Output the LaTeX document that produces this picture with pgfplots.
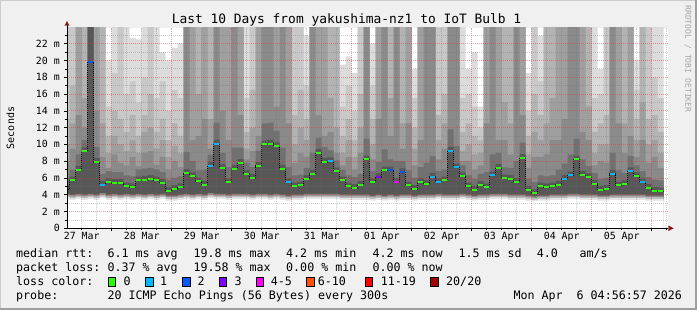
\documentclass[border=0pt]{standalone}
\usepackage{pgfplots}
\pgfplotsset{compat=1.18}
\usepackage{pgfplotstable}
\usepackage{fontspec}
\setmainfont{DejaVu Sans Mono}
\definecolor{bgc}{HTML}{F0F0F0}
\definecolor{cA}{HTML}{DCDCDC}
\definecolor{cB}{HTML}{C8C8C8}
\definecolor{cC}{HTML}{B3B3B3}
\definecolor{cD}{HTML}{9F9F9F}
\definecolor{cE}{HTML}{8A8A8A}
\definecolor{cF}{HTML}{717171}
\definecolor{cG}{HTML}{575757}
\definecolor{botA}{HTML}{8A8A8A}
\definecolor{botB}{HTML}{B8B8B8}
\definecolor{botC}{HTML}{E2E2E2}
\definecolor{lossA}{HTML}{26FF00}
\definecolor{lossB}{HTML}{00B8FF}
\definecolor{lossC}{HTML}{0059FF}
\definecolor{lossD}{HTML}{7E00FF}
\definecolor{lossE}{HTML}{FF00FF}
\definecolor{lossF}{HTML}{FF5500}
\definecolor{lossG}{HTML}{FF0000}
\definecolor{lossH}{HTML}{A10000}
\definecolor{mgrid}{HTML}{E03030}
\definecolor{arr}{HTML}{8C1E1E}

\pgfplotstableread{
x a b c d e f g m lo loss
0.2 24 24 13 10 8.0 6.0 5.15 4.7 4.1 0
0.3 24 24 17 12.5 9.5 7.0 6.15 5.7 4.0 0
0.4 24 24 24 24 13.5 8.8 7.45 7.0 4.1 0
0.5 24 24 24 15.5 12 10.5 9.65 9.2 4.0 0
0.6 24 24 24 24 24 24 24 19.8 4.1 2
0.7 24 24 24 24 14 9.7 8.35 7.9 4.0 0
0.8 24 24 24 12.5 8.5 6.5 5.65 5.2 4.2 1
0.9 20 14.5 11 9 7.2 6.8 5.95 5.5 4.0 0
1.0 24 18.5 14 11 8.8 6.7 5.85 5.4 4.1 0
1.1 24 24 13 10 7.8 6.7 5.85 5.4 4.0 0
1.2 24 16 11.5 9.2 7.5 6.3 5.45 5.0 4.1 0
1.3 22.7 17.5 13.5 10.5 8.5 6.2 5.35 4.9 4.0 0
1.4 22.5 15 11 9 7.4 7.0 6.15 5.7 4.1 0
1.5 24 18 13.5 11.5 9 7.1 6.25 5.8 4.0 0
1.6 24 24 16 12 9.2 7.2 6.35 5.9 4.1 0
1.7 24 15.5 11.5 9.5 7.6 7.0 6.15 5.7 4.0 0
1.8 21 17.5 13 10.5 8.5 6.7 5.85 5.4 4.1 0
1.9 20 14 10.5 8.5 7.0 5.8 4.95 4.5 3.9 0
2.0 21.5 16.5 12.5 9.8 8 6.0 5.15 4.7 3.9 0
2.1 22 15.5 11 9 7.3 6.2 5.35 4.9 4.0 0
2.2 24 24 24 24 24 9.1 7.05 6.6 4.1 0
2.3 24 24 24 24 10.5 8.0 6.65 6.2 4.0 0
2.4 24 24 24 16 11 6.9 6.05 5.6 4.1 0
2.5 24 24 24 24 13 7.0 5.65 5.2 4.0 0
2.6 24 24 24 13 9.5 8.75 7.9 7.45 4.2 1
2.7 24 24 24 24 24 12.6 10.55 10.1 4.1 1
2.8 24 24 24 24 14 9.0 7.65 7.2 4.1 0
2.9 24 24 24 24 10.5 7.3 5.95 5.5 4.0 0
3.0 24 24 24 24 24 9.6 7.55 7.1 4.1 0
3.1 24 24 24 24 13.5 9.6 8.25 7.8 4.1 0
3.2 24 15.5 11.5 9.5 8.2 7.8 6.95 6.5 4.1 0
3.3 24 24 16.5 12 9.2 7.3 6.45 6.0 4.0 0
3.4 24 24 24 24 11 9.25 7.9 7.45 4.1 0
3.5 24 24 24 24 24 12.5 10.45 10.0 4.1 0
3.6 24 24 24 24 24 12.6 10.55 10.1 4.0 0
3.7 24 24 24 24 14.5 11.6 10.25 9.8 4.1 0
3.8 24 24 24 24 24 9.6 7.55 7.1 4.0 0
3.9 24 24 24 24 12.5 7.3 5.95 5.5 3.9 1
4.0 24 24 13.5 10 7.8 6.3 5.45 5.0 4.0 0
4.1 24 24 16.5 12 9 6.4 5.55 5.1 4.0 0
4.2 23 17 13 10.5 8.5 7.2 6.35 5.9 4.1 0
4.3 24 24 24 24 24 9.0 6.95 6.5 4.1 0
4.4 24 24 24 24 13.5 10.8 9.45 9.0 4.1 0
4.5 24 24 24 24 11 9.7 8.35 7.9 4.1 0
4.6 24 24 24 15.5 11.5 9.3 8.45 8.0 4.1 1
4.7 24 24 24 12 9 8.1 7.25 6.8 4.1 0
4.8 19.5 14.5 11 9 7.5 7.0 6.15 5.7 4.0 0
4.9 20.5 17 13 10.5 8.5 6.3 5.45 5.0 4.0 0
5.0 18.5 14 10.5 8.5 7.0 6.1 5.25 4.8 4.0 0
5.1 24 24 16 12 9 6.5 5.65 5.2 4.0 0
5.2 24 24 24 24 24 10.7 8.65 8.2 4.0 0
5.3 22 17 13 10 8.2 6.8 5.95 5.5 3.9 0
5.4 24 24 24 24 13 7.9 6.55 6.1 4.0 3
5.5 24 24 24 24 24 9.4 7.35 6.9 3.9 0
5.6 24 24 24 15.5 11 8.2 7.35 6.9 4.0 2
5.7 24 24 24 24 24 8.0 6.0 5.55 3.9 4
5.8 24 24 24 12.5 9.5 8.0 7.15 6.7 4.0 2
5.9 24 24 24 24 12.5 6.9 5.55 5.1 4.0 0
6.0 19 15.5 12 9.5 7.5 6.0 5.15 4.7 3.9 0
6.1 24 24 24 24 10.5 7.3 5.95 5.5 4.0 0
6.2 24 24 24 24 24 7.8 5.75 5.3 4.0 0
6.3 24 24 24 24 24 8.6 6.6 6.15 4.0 1
6.4 24 24 13.5 10.5 8.2 6.8 5.95 5.5 4.1 1
6.5 24 24 16 12.5 9.5 7.0 6.15 5.7 4.0 0
6.6 24 24 24 24 24 11.8 9.7 9.25 4.0 1
6.7 24 24 24 24 24 9.8 7.7 7.25 4.0 1
6.8 24 15.5 11.5 9.2 8.0 7.5 6.65 6.2 4.1 0
6.9 19 16 12.5 10 8.0 6.3 5.45 5.0 4.0 0
7.0 21 14.5 11 8.8 7.0 5.9 5.05 4.6 3.9 0
7.1 14.5 12 10.5 9 7.5 6.5 5.65 5.2 4.0 0
7.2 24 24 24 24 12.5 6.7 5.35 4.9 4.0 0
7.3 24 24 24 24 24 8.8 6.75 6.3 4.1 1
7.4 24 24 24 24 10.5 9.0 7.65 7.2 4.1 0
7.5 24 24 24 15 10.5 7.25 6.4 5.95 4.1 0
7.6 24 24 24 12.5 8.8 7.2 6.35 5.9 4.0 0
7.7 24 24 24 24 24 8.0 5.95 5.5 4.0 0
7.8 24 24 24 24 13.5 10.2 8.85 8.4 4.0 0
7.9 18.5 14 11 8.8 7.2 5.9 5.05 4.6 3.9 0
8.0 24 24 16 11.5 8.5 5.5 4.65 4.2 3.8 0
8.1 23 17.5 13.5 10.5 8.5 6.3 5.45 5.0 3.9 0
8.2 24 24 24 12.5 8.8 6.2 5.35 4.9 3.9 0
8.3 24 24 24 15.5 10.5 6.3 5.45 5.0 4.0 0
8.4 24 24 24 24 10.5 7.0 5.65 5.2 4.0 0
8.5 24 24 24 24 13 7.7 6.35 5.9 4.0 1
8.6 24 24 24 24 24 8.8 6.75 6.3 4.1 1
8.7 24 24 24 24 24 10.7 8.65 8.2 4.1 0
8.8 24 24 24 24 11.5 8.2 6.85 6.4 4.0 0
8.9 24 24 24 14.5 10.5 7.4 6.55 6.1 4.0 0
9.0 24 15.5 11.5 9 7.5 6.6 5.75 5.3 4.0 0
9.1 19 16 12.5 10 8 5.9 5.05 4.6 3.9 0
9.2 24 24 13.5 10 7.8 6.0 5.15 4.7 3.9 0
9.3 24 24 24 24 24 9.0 6.95 6.5 4.0 1
9.4 24 24 24 24 12.5 6.9 5.55 5.1 4.0 0
9.5 24 24 24 12.5 9 6.6 5.75 5.3 4.0 0
9.6 24 24 24 24 11 8.6 7.25 6.8 4.0 1
9.7 20 16.5 13 10.5 8.5 7.5 6.65 6.2 4.0 0
9.8 24 24 24 15 10.5 6.8 5.95 5.5 4.0 1
9.9 24 24 13 10 7.8 6.1 5.25 4.8 3.9 0
10.0 24 18 13.5 10.5 8.5 5.8 4.95 4.5 3.9 0
10.1 24 15.5 11.5 9 7.2 5.7 4.85 4.4 3.9 0
10.2 24 15.5 11.5 9 7.2 5.7 4.85 4.4 3.9 0
}\smoke

\begin{document}
\begin{tikzpicture}[x=1pt,y=1pt]
\useasboundingbox (0,0) rectangle (697,310);
\fill[bgc] (0,0) rectangle (697,310);
\fill[black!20] (0,309) rectangle (697,310);
\fill[black!20] (0,0) rectangle (1,310);
\fill[black!38] (0,0) rectangle (697,2);
\fill[black!38] (695,0) rectangle (697,310);

\begin{axis}[
  at={(67pt,81.7pt)}, anchor=south west,
  width=601pt, height=200.3pt, scale only axis,
  xmin=0.255, xmax=10.272, ymin=0, ymax=23.87,
  axis x line=bottom, axis y line=left,
  axis line style={-, black, line width=0.8pt},
  axis background/.style={fill=white},
  axis on top,
  xtick={1,2,...,10}, xticklabels={},
  minor xtick={0.5,0.75,1.25,1.5,1.75,2.25,2.5,2.75,3.25,3.5,3.75,4.25,4.5,4.75,5.25,5.5,5.75,6.25,6.5,6.75,7.25,7.5,7.75,8.25,8.5,8.75,9.25,9.5,9.75,10.25},
  extra x ticks={0.5,1.5,2.5,3.5,4.5,5.5,6.5,7.5,8.5,9.5},
  extra x tick labels={27 Mar,28 Mar,29 Mar,30 Mar,31 Mar,01 Apr,02 Apr,03 Apr,04 Apr,05 Apr},
  extra x tick style={grid=none, major tick length=0pt},
  ytick={0,2,...,22},
  yticklabels={0,2 m,4 m,6 m,8 m,10 m,12 m,14 m,16 m,18 m,20 m,22 m},
  minor ytick={1,3,...,23},
  grid=both,
  major grid style={draw=mgrid, draw opacity=0.45, line width=0.8pt, dash pattern=on 1pt off 1pt},
  minor grid style={draw=black!55, draw opacity=0.35, line width=0.8pt, dash pattern=on 1pt off 1pt},
  tick align=outside,
  major tick length=3pt, minor tick length=2pt,
  tick style={black, line width=0.6pt},
  xticklabel style={font=\fontsize{9.9}{12}\selectfont, anchor=north, inner sep=0pt, yshift=-4pt},
  yticklabel style={font=\fontsize{9.9}{12}\selectfont, anchor=east, inner sep=0pt, xshift=-4pt},
]
\addplot[fill=cA, draw=none, const plot] table[x=x, y=a]{\smoke} \closedcycle;
\addplot[fill=cB, draw=none, const plot] table[x=x, y=b]{\smoke} \closedcycle;
\addplot[fill=cC, draw=none, const plot] table[x=x, y=c]{\smoke} \closedcycle;
\addplot[fill=cD, draw=none, const plot] table[x=x, y=d]{\smoke} \closedcycle;
\addplot[fill=cE, draw=none, const plot] table[x=x, y=e]{\smoke} \closedcycle;
\addplot[fill=cF, draw=none, const plot] table[x=x, y=f]{\smoke} \closedcycle;
\addplot[fill=cG, draw=none, const plot] table[x=x, y=g]{\smoke} \closedcycle;
\addplot[fill=botA, draw=none, const plot] table[x=x, y=lo]{\smoke} \closedcycle;
\addplot[fill=botB, draw=none, const plot] table[x=x, y expr=\thisrow{lo}-0.2]{\smoke} \closedcycle;
\addplot[fill=botC, draw=none, const plot] table[x=x, y expr=\thisrow{lo}-0.4]{\smoke} \closedcycle;
\addplot[fill=white, draw=none, const plot] table[x=x, y expr=\thisrow{lo}-0.6]{\smoke} \closedcycle;
\addplot[const plot, black, line width=0.7pt, dash pattern=on 1pt off 1pt] table[x=x, y=m]{\smoke};
\addplot[scatter, only marks, mark=-, mark size=2.4pt,
  scatter src=explicit symbolic,
  mark options={line width=2pt},
  scatter/classes={0={mark=-,draw=lossA},1={mark=-,draw=lossB},2={mark=-,draw=lossC},3={mark=-,draw=lossD},4={mark=-,draw=lossE}},
  skip coords between index={100}{101}]
  table[x expr=\thisrow{x}+0.05, y=m, meta=loss]{\smoke};
\end{axis}

% axis arrows
\draw[black, line width=0.8pt] (67,282) -- (67,285);
\fill[arr] (64.5,284.3) -- (69.5,284.3) -- (67,289) -- cycle;
\fill[arr] (668.3,84.5) -- (668.3,78.9) -- (673.8,81.7) -- cycle;

% title and labels
\node[anchor=base] at (346.5,286) {\fontsize{12.9}{15}\selectfont Last 10 Days from yakushima-nz1 to IoT Bulb 1};
\node[rotate=90] at (10.5,182) {\fontsize{10}{12}\selectfont Seconds};
\node[rotate=-90, text=black!35] at (688,251) {\fontsize{8.1}{10}\selectfont RRDTOOL / TOBI OETIKER};

% legend
\begin{scope}[every node/.style={anchor=base west, inner sep=0pt, font=\fontsize{11.66}{14}\selectfont}]
\node at (16,52) {median rtt:};
\node at (107.3,52) {6.1 ms avg};
\node at (193.3,52) {19.8 ms max};
\node at (286,52) {4.2 ms min};
\node at (372.3,52) {4.2 ms now};
\node at (458.3,52) {1.5 ms sd};
\node at (536.7,52) {4.0};
\node at (579.3,52) {am/s};
\node at (16,38) {packet loss:};
\node at (107.3,38) {0.37 \% avg};
\node at (193.3,38) {19.58 \% max};
\node at (286,38) {0.00 \% min};
\node at (372.3,38) {0.00 \% now};
\node at (16,24) {loss color:};
\node at (123.3,24) {0};
\node at (160,24) {1};
\node at (197.3,24) {2};
\node at (234.3,24) {3};
\node at (270.7,24) {4-5};
\node at (317.7,24) {6-10};
\node at (380.7,24) {11-19};
\node at (446,24) {20/20};
\node at (16,10) {probe:};
\node at (107.3,10) {20 ICMP Echo Pings (56 Bytes) every 300s};
\node at (513.3,10) {Mon Apr\ \ 6 04:56:57 2026};
\end{scope}
\foreach \bx/\cl in {108.3/lossA,145.7/lossB,182.7/lossC,219.3/lossD,256/lossE,306.7/lossF,365/lossG,430.7/lossH}{
  \filldraw[fill=\cl, draw=black, line width=0.8pt] (\bx,24) rectangle ++(7.4,8.4);
}
\end{tikzpicture}
\end{document}
